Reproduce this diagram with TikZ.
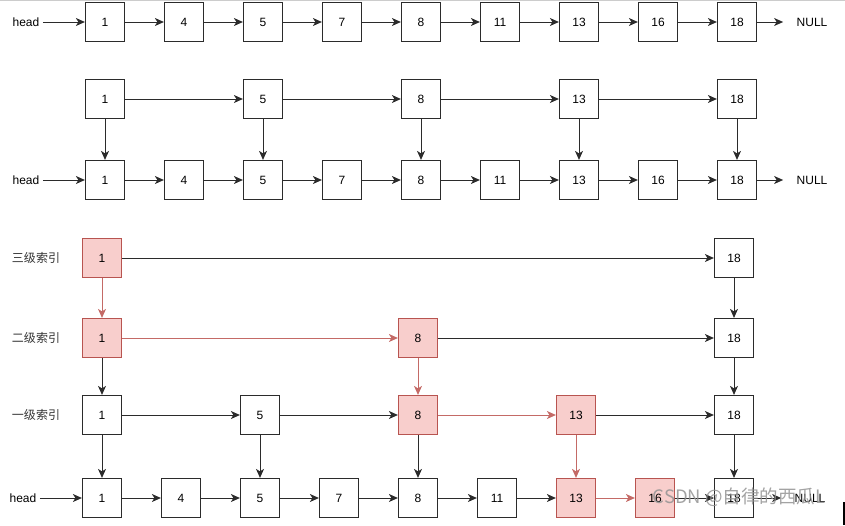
\documentclass[tikz,border=0pt]{standalone}
\usepackage{fontspec}
\setmainfont{Liberation Sans}
\newfontfamily\cjk{Noto Sans CJK SC}
\usetikzlibrary{arrows.meta}
\definecolor{ink}{HTML}{2B2B2B}
\definecolor{hotred}{HTML}{B85450}
\definecolor{hotline}{HTML}{C46A66}
\definecolor{hotfill}{HTML}{F8CECC}
\definecolor{subink}{HTML}{333333}

\begin{document}
\begin{tikzpicture}[
    x=1pt, y=-1pt,
    >={Stealth[length=9pt, width=8pt, inset=2.5pt]},
    every node/.style={font=\fontsize{12}{14}\selectfont, text=black},
    % List element box
    elem/.style={rectangle, draw=ink, line width=1.2pt, fill=white,
                 minimum width=39pt, minimum height=39pt, inner sep=0pt},
    % Element on the search path
    hot/.style={elem, draw=hotred, fill=hotfill},
    arr/.style={->, line width=1pt, ink},
    hotarr/.style={->, line width=1pt, hotline},
    % Level label
    lvl/.style={font=\cjk\fontsize{12}{14}\selectfont, text=subink}
]
\useasboundingbox (0,0) rectangle (845,525);
\draw[gray!40, line width=1pt] (0,0.5) -- (845,0.5);

% ---------- Plain linked list ----------
\node (ahead) at (26,22) {head};
\node[elem] (a1) at (105,22) {1};
\node[elem] (a4) at (184,22) {4};
\node[elem] (a5) at (263,22) {5};
\node[elem] (a7) at (342,22) {7};
\node[elem] (a8) at (421,22) {8};
\node[elem] (a11) at (500,22) {11};
\node[elem] (a13) at (579,22) {13};
\node[elem] (a16) at (658,22) {16};
\node[elem] (a18) at (737,22) {18};
\node (anull) at (812,22) {NULL};

\draw[arr] (ahead) -- (a1);
\draw[arr] (a1) -- (a4);
\draw[arr] (a4) -- (a5);
\draw[arr] (a5) -- (a7);
\draw[arr] (a7) -- (a8);
\draw[arr] (a8) -- (a11);
\draw[arr] (a11) -- (a13);
\draw[arr] (a13) -- (a16);
\draw[arr] (a16) -- (a18);
\draw[arr, shorten >=10pt] (a18) -- (anull);

% ---------- One index level ----------
\node[elem] (bi1) at (105,99) {1};
\node[elem] (bi5) at (263,99) {5};
\node[elem] (bi8) at (421,99) {8};
\node[elem] (bi13) at (579,99) {13};
\node[elem] (bi18) at (737,99) {18};

\node (bhead) at (26,180) {head};
\node[elem] (b1) at (105,180) {1};
\node[elem] (b4) at (184,180) {4};
\node[elem] (b5) at (263,180) {5};
\node[elem] (b7) at (342,180) {7};
\node[elem] (b8) at (421,180) {8};
\node[elem] (b11) at (500,180) {11};
\node[elem] (b13) at (579,180) {13};
\node[elem] (b16) at (658,180) {16};
\node[elem] (b18) at (737,180) {18};
\node (bnull) at (812,180) {NULL};

\draw[arr] (bi1) -- (bi5);
\draw[arr] (bi5) -- (bi8);
\draw[arr] (bi8) -- (bi13);
\draw[arr] (bi13) -- (bi18);
\draw[arr] (bi1) -- (b1);
\draw[arr] (bi5) -- (b5);
\draw[arr] (bi8) -- (b8);
\draw[arr] (bi13) -- (b13);
\draw[arr] (bi18) -- (b18);

\draw[arr] (bhead) -- (b1);
\draw[arr] (b1) -- (b4);
\draw[arr] (b4) -- (b5);
\draw[arr] (b5) -- (b7);
\draw[arr] (b7) -- (b8);
\draw[arr] (b8) -- (b11);
\draw[arr] (b11) -- (b13);
\draw[arr] (b13) -- (b16);
\draw[arr] (b16) -- (b18);
\draw[arr, shorten >=10pt] (b18) -- (bnull);

% ---------- Three index levels, search for 16 ----------
\node[lvl] (lab3) at (36,258) {三级索引};
\node[lvl] (lab2) at (36,338) {二级索引};
\node[lvl] (lab1) at (36,415) {一级索引};

\node[hot] (c3n1) at (102,258) {1};
\node[elem] (c3n18) at (734,258) {18};

\node[hot] (c2n1) at (102,338) {1};
\node[hot] (c2n8) at (418,338) {8};
\node[elem] (c2n18) at (734,338) {18};

\node[elem] (c1n1) at (102,415) {1};
\node[elem] (c1n5) at (260,415) {5};
\node[hot] (c1n8) at (418,415) {8};
\node[hot] (c1n13) at (576,415) {13};
\node[elem] (c1n18) at (734,415) {18};

\node (chead) at (23,498) {head};
\node[elem] (c0n1) at (102,498) {1};
\node[elem] (c0n4) at (181,498) {4};
\node[elem] (c0n5) at (260,498) {5};
\node[elem] (c0n7) at (339,498) {7};
\node[elem] (c0n8) at (418,498) {8};
\node[elem] (c0n11) at (497,498) {11};
\node[hot] (c0n13) at (576,498) {13};
\node[hot] (c0n16) at (655,498) {16};
\node[elem] (c0n18) at (734,498) {18};
\node (cnull) at (810,498) {NULL};

% level 3
\draw[arr] (c3n1) -- (c3n18);
\draw[hotarr] (c3n1) -- (c2n1);
\draw[arr] (c3n18) -- (c2n18);
% level 2
\draw[hotarr] (c2n1) -- (c2n8);
\draw[arr] (c2n8) -- (c2n18);
\draw[arr] (c2n1) -- (c1n1);
\draw[hotarr] (c2n8) -- (c1n8);
\draw[arr] (c2n18) -- (c1n18);
% level 1
\draw[arr] (c1n1) -- (c1n5);
\draw[arr] (c1n5) -- (c1n8);
\draw[hotarr] (c1n8) -- (c1n13);
\draw[arr] (c1n13) -- (c1n18);
\draw[arr] (c1n1) -- (c0n1);
\draw[arr] (c1n5) -- (c0n5);
\draw[arr] (c1n8) -- (c0n8);
\draw[hotarr] (c1n13) -- (c0n13);
\draw[arr] (c1n18) -- (c0n18);
% base list
\draw[arr] (chead) -- (c0n1);
\draw[arr] (c0n1) -- (c0n4);
\draw[arr] (c0n4) -- (c0n5);
\draw[arr] (c0n5) -- (c0n7);
\draw[arr] (c0n7) -- (c0n8);
\draw[arr] (c0n8) -- (c0n11);
\draw[arr] (c0n11) -- (c0n13);
\draw[hotarr] (c0n13) -- (c0n16);
\draw[arr] (c0n16) -- (c0n18);
\draw[arr, shorten >=10pt] (c0n18) -- (cnull);

% watermark
\node[font=\cjk\fontsize{18.5}{20}\selectfont, text=gray!85, text opacity=0.85] (mark) at (739,497) {CSDN @自律的西瓜L};
\draw[line width=2pt] (843.5,502) -- (843.5,525);

\end{tikzpicture}
\end{document}
